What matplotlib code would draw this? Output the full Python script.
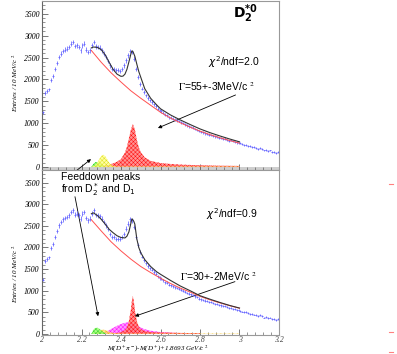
import numpy as np
import matplotlib
matplotlib.use("Agg")
import matplotlib.pyplot as plt
from matplotlib.ticker import MultipleLocator
from matplotlib.lines import Line2D
from matplotlib.font_manager import FontProperties

plt.rcParams["hatch.linewidth"] = 0.35

# ---- data ----
# histogram: 10 MeV bins from 2.0 to 3.2 (same data in both panels)
bin_lo = 2.0
bin_w = 0.01
counts = [1250, 1690, 1735, 1770, 1980, 2070, 2245, 2380, 2510, 2590,
          2650, 2680, 2700, 2740, 2815, 2855, 2760, 2780, 2740, 2665,
          2780, 2815, 2680, 2625, 2665, 2780, 2855, 2755, 2740, 2725,
          2665, 2590, 2510, 2420, 2320, 2245, 2245, 2205, 2205, 2190,
          2245, 2320, 2435, 2550, 2650, 2625, 2475, 2245, 2055, 1900,
          1790, 1710, 1635, 1575, 1520, 1485, 1430, 1390, 1330, 1295,
          1280, 1240, 1195, 1180, 1140, 1125, 1105, 1080, 1065, 1050,
          1025, 1005, 975, 950, 930, 915, 900, 870, 850, 820,
          800, 790, 770, 760, 740, 735, 710, 700, 690, 670,
          660, 640, 650, 620, 600, 610, 585, 570, 560, 555,
          540, 520, 510, 500, 490, 470, 465, 450, 440, 420,
          430, 410, 380, 390, 370, 380, 350, 340, 320, 340]

# background curves (red lines)
bg_x = [2.25, 2.30, 2.35, 2.40, 2.45, 2.50, 2.55, 2.60, 2.65, 2.70,
        2.75, 2.80, 2.85, 2.90, 2.95, 3.00]
bg_top = [2660, 2390, 2150, 1940, 1740, 1570, 1410, 1250, 1120, 1010,
          910, 820, 740, 670, 605, 545]
bg_bot = [2640, 2380, 2130, 1920, 1730, 1560, 1420, 1290, 1170, 1060,
          970, 870, 790, 720, 655, 595]

# total fit curves (black lines)
fit_top_x = [2.25, 2.26, 2.28, 2.30, 2.32, 2.34, 2.36, 2.38, 2.40, 2.41,
             2.42, 2.43, 2.44, 2.45, 2.455, 2.46, 2.47, 2.48, 2.49, 2.50,
             2.52, 2.55, 2.58, 2.60, 2.65, 2.70, 2.75, 2.80, 2.85, 2.90,
             2.95, 3.00]
fit_top_y = [2720, 2740, 2730, 2680, 2560, 2390, 2230, 2120, 2070, 2075,
             2120, 2230, 2400, 2580, 2650, 2640, 2530, 2350, 2180, 2050,
             1790, 1570, 1420, 1330, 1190, 1075, 970, 870, 785, 710,
             640, 575]
fit_bot_x = [2.25, 2.26, 2.28, 2.30, 2.32, 2.34, 2.36, 2.38, 2.40, 2.42,
             2.43, 2.44, 2.45, 2.455, 2.46, 2.465, 2.47, 2.48, 2.49, 2.50,
             2.52, 2.55, 2.58, 2.60, 2.65, 2.70, 2.75, 2.80, 2.85, 2.90,
             2.95, 3.00]
fit_bot_y = [2780, 2800, 2740, 2650, 2540, 2420, 2340, 2270, 2230, 2220,
             2260, 2360, 2560, 2660, 2640, 2600, 2540, 2200, 2000, 1880,
             1720, 1560, 1440, 1380, 1240, 1110, 1000, 885, 805, 730,
             660, 600]

# signal components (hatched)
red_top_x = [2.30, 2.34, 2.38, 2.40, 2.42, 2.43, 2.44, 2.45, 2.46, 2.47,
             2.48, 2.49, 2.50, 2.52, 2.55, 2.60, 2.65, 2.70, 2.80, 2.90, 3.00]
red_top_y = [20, 50, 120, 180, 330, 460, 650, 850, 980, 860,
             620, 450, 340, 220, 140, 90, 70, 55, 40, 30, 25]
green_top_x = [2.25, 2.26, 2.27, 2.28, 2.29, 2.30, 2.31, 2.32, 2.33]
green_top_y = [0, 70, 110, 115, 95, 60, 30, 10, 0]
yellow_top_x = [2.25, 2.27, 2.28, 2.29, 2.30, 2.31, 2.32, 2.33, 2.34, 2.35,
                2.36, 2.38, 3.00]
yellow_top_y = [0, 40, 100, 180, 250, 280, 250, 180, 100, 50, 20, 8, 8]

red_bot_x = [2.36, 2.40, 2.42, 2.43, 2.44, 2.45, 2.455, 2.46, 2.465, 2.47,
             2.48, 2.49, 2.50, 2.52, 2.55, 2.60, 2.70, 2.80]
red_bot_y = [10, 40, 90, 150, 300, 560, 760, 880, 760, 560,
             300, 170, 110, 70, 45, 35, 25, 20]
magenta_bot_x = [2.28, 2.30, 2.32, 2.34, 2.36, 2.38, 2.40, 2.42, 2.44, 2.46,
                 2.48, 2.50, 2.52, 2.55, 2.60, 2.65, 2.70, 2.80]
magenta_bot_y = [0, 20, 50, 90, 140, 190, 230, 260, 270, 250,
                 200, 150, 110, 75, 45, 30, 20, 10]
green_bot_x = [2.25, 2.26, 2.27, 2.28, 2.29, 2.30, 2.31, 2.32, 2.33]
green_bot_y = [0, 100, 140, 145, 120, 80, 45, 20, 0]
yellow_bot_x = [2.25, 2.27, 2.29, 2.30, 2.31, 2.32, 2.33, 2.35, 2.37, 2.40, 3.00]
yellow_bot_y = [0, 30, 70, 95, 100, 90, 70, 35, 15, 8, 8]

xticks = [2.0, 2.2, 2.4, 2.6, 2.8, 3.0, 3.2]
xtick_labels = ["2", "2.2", "2.4", "2.6", "2.8", "3", "3.2"]
yticks = [0, 500, 1000, 1500, 2000, 2500, 3000, 3500]

# ---- figure ----
W, H = 397, 354
fig = plt.figure(figsize=(W / 100, H / 100), dpi=100)

def fx(px):
    return px / W

def fy(py):
    return 1 - py / H

ax1 = fig.add_axes([fx(42), fy(170), fx(237), (170 - 1) / H])
ax2 = fig.add_axes([fx(42), fy(335), fx(237), (335 - 170) / H])

centers = bin_lo + bin_w * (np.arange(len(counts)) + 0.5)
counts = np.array(counts, dtype=float)

tickfont = dict(family="Liberation Serif", style="italic", size=5.6)

for ax, ymin in ((ax1, -68), (ax2, -23)):
    ax.set_xlim(2.0, 3.2)
    ax.set_ylim(ymin, 3790)
    ax.errorbar(centers, counts, yerr=np.sqrt(counts), xerr=bin_w / 2,
                fmt="none", ecolor="#6060ff", elinewidth=0.55, zorder=5)
    ax.xaxis.set_major_locator(MultipleLocator(0.2))
    ax.xaxis.set_minor_locator(MultipleLocator(0.04))
    ax.set_yticks(yticks)
    ax.yaxis.set_minor_locator(MultipleLocator(100))
    ax.tick_params(which="both", direction="in", top=False, right=False,
                   pad=2, colors="#444444")
    ax.tick_params(which="major", length=4, width=0.5)
    ax.tick_params(which="minor", length=2, width=0.4)
    for lab in ax.get_yticklabels():
        lab.set_fontproperties(FontProperties(**tickfont))
        lab.set_color("black")
    for s in ax.spines.values():
        s.set_color("#999999")
        s.set_linewidth(0.8)
    ax.spines["left"].set_color("#666666")

ax1.set_xticks(xticks)
ax1.set_xticklabels([])
ax1.axhspan(-68, 0, color="#cfcfcf", lw=0, zorder=0)
ax2.set_xticks(xticks)
ax2.set_xticklabels(xtick_labels, **tickfont)
ax2.tick_params(axis="x", pad=0.6)

def hatched(ax, x, y, face, edge, z):
    ax.fill_between(x, 0, y, facecolor=face, edgecolor=edge, hatch="xxxxxxxx",
                    linewidth=0, zorder=z)

# top panel components
hatched(ax1, red_top_x, red_top_y, (1, 0.5, 0.5, 0.85), "#ff1010", 2)
hatched(ax1, green_top_x, green_top_y, (0.6, 1, 0.4, 0.8), "#30d030", 2)
hatched(ax1, yellow_top_x, yellow_top_y, (1, 1, 0.5, 0.7), "#e0e020", 3)
ax1.plot(bg_x, bg_top, color="#ff5050", lw=0.7, zorder=6)
ax1.plot(fit_top_x, fit_top_y, color="#333333", lw=0.8, zorder=7)

# bottom panel components
hatched(ax2, magenta_bot_x, magenta_bot_y, (1, 0.5, 1, 0.8), "#ff10ff", 2)
hatched(ax2, red_bot_x, red_bot_y, (1, 0.5, 0.5, 0.85), "#ff1010", 3)
hatched(ax2, yellow_bot_x, yellow_bot_y, (1, 0.85, 0.4, 0.7), "#f0c020", 3)
hatched(ax2, green_bot_x, green_bot_y, (0.6, 1, 0.4, 0.8), "#30d030", 4)
ax2.plot(bg_x, bg_bot, color="#ff5050", lw=0.7, zorder=6)
ax2.plot(fit_bot_x, fit_bot_y, color="#333333", lw=0.8, zorder=7)

sans = "Liberation Sans"
arrow = dict(arrowstyle="-|>", color="black", lw=0.6, mutation_scale=5,
             shrinkA=0, shrinkB=0)

# top annotations
ax1.text(3.03, 3490, r"$\mathbf{D_2^{*0}}$", math_fontfamily="dejavusans",
         fontsize=10, ha="center", va="center")
ax1.text(2.97, 2400, r"$\chi^2$/ndf=2.0", family=sans, fontsize=7.5,
         ha="center", va="center")
ax1.text(2.69, 1830, r"$\Gamma$=55+-3MeV/c $^2$", family=sans, fontsize=7.5,
         ha="left", va="center", math_fontfamily="stix")
ax1.annotate("", xy=(2.587, 890), xytext=(2.98, 1645), arrowprops=arrow)
ax1.annotate("", xy=(2.248, 180), xytext=(2.172, -91), arrowprops=arrow,
             annotation_clip=False)

# bottom annotations
ax2.text(2.095, 3740, "Feeddown peaks\nfrom D$_2^*$ and D$_1$", family=sans,
         fontsize=7.5, ha="left", va="top", linespacing=0.95,
         math_fontfamily="dejavusans")
ax2.annotate("", xy=(2.284, 411), xytext=(2.167, 3173), arrowprops=arrow)
ax2.text(2.96, 2760, r"$\chi^2$/ndf=0.9", family=sans, fontsize=7.5,
         ha="center", va="center")
ax2.text(2.70, 1320, r"$\Gamma$=30+-2MeV/c $^2$", family=sans, fontsize=7.5,
         ha="left", va="center", math_fontfamily="stix")
ax2.annotate("", xy=(2.47, 410), xytext=(2.977, 1210), arrowprops=arrow)

# axis titles
labfont = dict(family="Liberation Serif", style="italic", size=5)
fig.text(fx(15), fy(83), r"Entries / 10 MeV/c $^2$", rotation=90,
         ha="center", va="center", math_fontfamily="stix", **labfont)
fig.text(fx(15), fy(274), r"Entries / 10 MeV/c $^2$", rotation=90,
         ha="center", va="center", math_fontfamily="stix", **labfont)
fig.text(fx(158), fy(354), r"M(D$^+\pi^-$)-M(D$^+$)+1.8693 GeV/c $^2$",
         ha="center", va="bottom", math_fontfamily="stix",
         **dict(labfont, size=5.0))

# small stray marks at the right edge
for py in (184, 332, 352):
    fig.add_artist(Line2D([fx(389), fx(393)], [fy(py), fy(py)],
                          color="#ff8080", lw=0.8))

fig.savefig("out.png", dpi=100)
